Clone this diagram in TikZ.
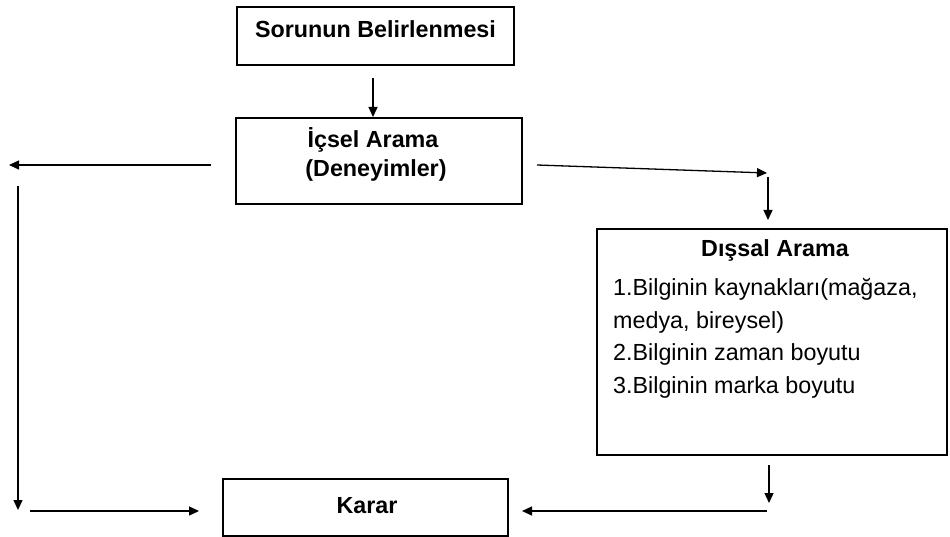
\documentclass[tikz,border=0pt]{standalone}
\usepackage{fontspec}
\setmainfont{Liberation Sans}
\usetikzlibrary{arrows.meta}
\begin{document}
\begin{tikzpicture}[x=1pt,y=-1pt,
  box/.style={draw,line width=1.4pt,inner sep=0pt},
  arr/.style={line width=1.3pt,-{Triangle[length=10pt,width=9pt]}},
  btxt/.style={font=\fontsize{23.3}{28}\selectfont\bfseries,anchor=base,inner sep=0pt},
  txt/.style={font=\fontsize{23.3}{28}\selectfont,anchor=base west,inner sep=0pt}]
\useasboundingbox (0,0) rectangle (950,537);
% boxes
\node[box,minimum width=277pt,minimum height=58pt] (sorun) at (375.5,36) {};
\node[box,minimum width=286pt,minimum height=86pt] (icsel) at (379,161) {};
\node[box,minimum width=350pt,minimum height=226pt] (dissal) at (772,342) {};
\node[box,minimum width=285pt,minimum height=57pt] (karar) at (365.5,507.5) {};
% texts
\node[btxt] (t1) at (375.5,38) {Sorunun Belirlenmesi};
\node[btxt] (t2) at (373,148) {İçsel Arama};
\node[btxt] (t3) at (376,177) {(Deneyimler)};
\node[btxt] (t4) at (775,257) {Dışsal Arama};
\node[txt] (t5) at (613,295) {1.Bilginin kaynakları(mağaza,};
\node[txt] (t6) at (613,328) {medya, bireysel)};
\node[txt] (t7) at (613,360) {2.Bilginin zaman boyutu};
\node[txt] (t8) at (613,393) {3.Bilginin marka boyutu};
\node[btxt] (t9) at (367,513) {Karar};
% connector end points
\coordinate (p1) at (373,78);  \coordinate (p2) at (373,117);
\coordinate (p3) at (211,165); \coordinate (p4) at (9,165);
\coordinate (p5) at (18,186);  \coordinate (p6) at (18,510);
\coordinate (p7) at (30,511);  \coordinate (p8) at (199,511);
\coordinate (p9) at (537,165); \coordinate (p10) at (767,173);
\coordinate (p11) at (768,177); \coordinate (p12) at (768,220);
\coordinate (p13) at (769,465); \coordinate (p14) at (769,503);
\coordinate (p15) at (767,511); \coordinate (p16) at (522,511);
% connectors
\draw[arr] (p1) -- (p2);
\draw[arr] (p3) -- (p4);
\draw[arr] (p5) -- (p6);
\draw[arr] (p7) -- (p8);
\draw[arr] (p9) -- (p10);
\draw[arr] (p11) -- (p12);
\draw[arr] (p13) -- (p14);
\draw[arr] (p15) -- (p16);
\end{tikzpicture}
\end{document}
